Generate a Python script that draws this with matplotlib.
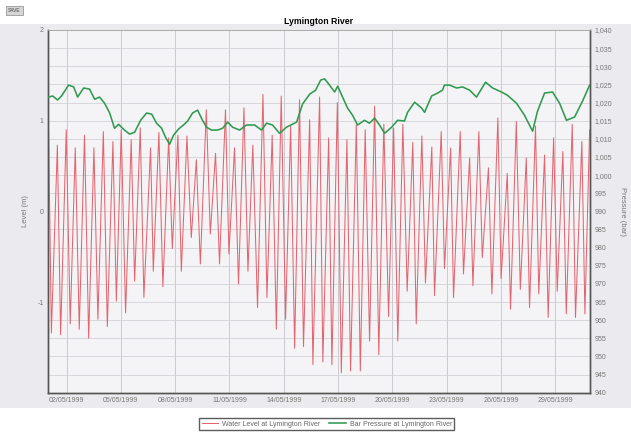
import matplotlib

matplotlib.use("Agg")

import matplotlib.dates as mdates
import matplotlib.pyplot as plt
import numpy as np
from matplotlib.patches import Rectangle
from matplotlib.ticker import FuncFormatter, MultipleLocator

plt.rcParams["font.family"] = ["Liberation Sans", "DejaVu Sans"]
plt.rcParams["axes.unicode_minus"] = False

# tide turning points (day of May 1999, level in m)
tide_day = [
    1.00, 1.16, 1.49, 1.67, 1.98, 2.20, 2.48, 2.70, 2.99, 3.22, 3.51, 3.73,
    4.03, 4.25, 4.56, 4.75, 5.02, 5.26, 5.57, 5.76, 6.07, 6.27, 6.64, 6.79,
    7.10, 7.32, 7.64, 7.84, 8.15, 8.34, 8.65, 8.89, 9.17, 9.39, 9.72, 9.94,
    10.23, 10.45, 10.78, 10.97, 11.28, 11.50, 11.80, 12.02, 12.29, 12.55,
    12.85, 13.07, 13.36, 13.59, 13.86, 14.10, 14.38, 14.60, 14.87, 15.09,
    15.43, 15.61, 15.98, 16.16, 16.48, 16.66, 16.96, 17.18, 17.49, 17.69,
    18.01, 18.23, 18.50, 18.74, 19.02, 19.25, 19.53, 19.79, 20.07, 20.30,
    20.58, 20.82, 21.13, 21.32, 21.63, 21.83, 22.18, 22.33, 22.70, 22.88,
    23.22, 23.38, 23.75, 23.93, 24.27, 24.45, 24.78, 24.97, 25.31, 25.50,
    25.83, 26.01, 26.35, 26.53, 26.85, 27.07, 27.40, 27.58, 27.91, 28.09,
    28.41, 28.61, 28.91, 29.11, 29.42, 29.61, 29.94, 30.12, 30.47, 30.64,
    30.90,
]
tide_level = [
    0.95, -1.34, 0.73, -1.36, 0.90, -1.24, 0.70, -1.30, 0.84, -1.40, 0.70, -1.19,
    0.88, -1.27, 0.77, -0.99, 0.90, -1.12, 0.79, -0.77, 0.92, -0.95, 0.70, -0.66,
    0.87, -0.83, 0.81, -0.41, 0.84, -0.66, 0.83, -0.29, 0.57, -0.58, 1.12, -0.25,
    0.64, -0.58, 1.12, -0.47, 0.70, -0.80, 1.14, -0.66, 0.73, -1.06,
    1.29, -0.95, 0.84, -1.30, 1.27, -1.19, 0.94, -1.51, 1.23, -1.49,
    1.01, -1.69, 1.26, -1.66, 0.81, -1.69, 1.20, -1.78, 0.79, -1.76,
    0.96, -1.76, 0.90, -1.43, 1.16, -1.58, 0.96, -1.16, 0.92, -1.43,
    0.96, -0.88, 0.76, -1.24, 0.83, -0.79, 0.71, -0.93, 0.88, -0.63,
    0.70, -0.95, 0.88, -0.69, 0.59, -0.82, 0.88, -0.51, 0.48, -0.91,
    1.03, -0.74, 0.42, -1.08, 0.99, -0.86, 0.59, -1.06, 0.94, -0.91,
    0.62, -1.17, 0.81, -0.88, 0.66, -1.13, 0.96, -1.17, 0.77, -1.13,
    0.90,
]

# barometric pressure (hPa)
press_day = [
    1.00, 1.23, 1.50, 1.72, 2.11, 2.39, 2.61, 2.94, 3.27, 3.55, 3.82, 4.10,
    4.38, 4.65, 4.87, 5.20, 5.48, 5.76, 6.09, 6.42, 6.70, 6.97, 7.25, 7.47,
    7.69, 7.91, 8.19, 8.46, 8.69, 8.96, 9.24, 9.51, 9.73, 10.01, 10.34, 10.62,
    10.90, 11.17, 11.56, 11.94, 12.39, 12.77, 13.05, 13.38, 13.77, 14.15,
    14.71, 15.04, 15.43, 15.76, 16.04, 16.26, 16.53, 16.81, 16.98, 17.25,
    17.52, 17.80, 18.08, 18.46, 18.74, 19.02, 19.29, 19.57, 19.96, 20.29,
    20.67, 20.84, 21.23, 21.61, 21.78, 22.17, 22.50, 22.77, 22.88, 23.16,
    23.55, 23.88, 24.27, 24.65, 25.15, 25.54, 26.03, 26.36, 26.86, 27.30,
    27.75, 28.02, 28.41, 28.85, 29.24, 29.62, 30.07, 30.51, 30.90,
]
press_hpa = [
    1021.5, 1021.8, 1020.7, 1021.8, 1024.8, 1024.3, 1021.5, 1024.0, 1023.7, 1020.9, 1021.5, 1019.8,
    1017.1, 1012.9, 1014.0, 1012.4, 1011.3, 1011.8, 1015.1, 1017.1, 1016.8, 1014.3, 1012.9, 1010.4,
    1008.5, 1011.0, 1012.7, 1013.8, 1014.9, 1017.1, 1017.9, 1015.1, 1013.2, 1012.4, 1012.4, 1012.9,
    1014.6, 1013.2, 1012.4, 1013.8, 1013.8, 1012.4, 1014.3, 1013.8, 1011.5, 1013.2,
    1014.6, 1019.6, 1022.3, 1023.4, 1026.2, 1026.5, 1024.8, 1022.9, 1024.5, 1021.5,
    1018.5, 1016.5, 1013.8, 1015.1, 1014.3, 1015.7, 1013.8, 1011.5, 1013.2, 1015.1,
    1014.9, 1017.3, 1020.1, 1018.5, 1017.3, 1021.8, 1022.6, 1023.4, 1024.8, 1024.8,
    1024.0, 1024.3, 1023.4, 1021.5, 1025.6, 1024.0, 1022.9, 1022.0, 1019.8, 1016.5,
    1012.1, 1017.6, 1022.6, 1022.9, 1019.8, 1015.1, 1016.0, 1020.4, 1024.8,
]

date_ticks = [2, 5, 8, 11, 14, 17, 20, 23, 26, 29]

start = np.datetime64("1999-05-01T00:00")


def to_dates(days):
    mins = np.round((np.asarray(days) - 1.0) * 1440).astype(int)
    return start + mins.astype("timedelta64[m]")


fig = plt.figure(figsize=(6.31, 4.34), dpi=100)
fig.patch.set_facecolor("white")
fig.patches.append(Rectangle((0.0, 0.06), 1.0, 0.885, transform=fig.transFigure,
                             facecolor="#ebebef", edgecolor="none", zorder=-10))

ax = fig.add_axes([0.076, 0.095, 0.859, 0.836])
ax.set_facecolor("#f4f4f6")
ax2 = ax.twinx()

ax.plot(to_dates(tide_day), tide_level, color="#e26670", lw=0.75,
        label="Water Level at Lymington River", zorder=3)
ax2.plot(to_dates(press_day), press_hpa, color="#2f9a50", lw=1.15,
         label="Bar Pressure at Lymington River", zorder=4)

ax.set_ylim(-2, 2)
ax2.set_ylim(940, 1040)
ax.set_xlim(to_dates([0.97])[0], to_dates([30.92])[0])

ax.set_yticks([-1, 0, 1, 2])
ax.yaxis.set_minor_locator(MultipleLocator(0.2))
ax2.yaxis.set_major_locator(MultipleLocator(5))
ax2.yaxis.set_major_formatter(FuncFormatter(lambda v, p: f"{v:,.0f}"))
ax.set_xticks(to_dates(date_ticks))
ax.xaxis.set_major_formatter(mdates.DateFormatter("%d/%m/%Y"))

ax.grid(True, which="both", axis="y", color="#d2d2d8", lw=0.6)
ax.grid(True, which="major", axis="x", color="#c4c4ca", lw=0.6)
ax.set_axisbelow(True)

for a in (ax, ax2):
    a.tick_params(labelsize=5, colors="#777777", length=0, pad=3)
    a.tick_params(which="minor", length=0)
    for side in ("left", "right", "bottom"):
        a.spines[side].set_color("#555555")
        a.spines[side].set_linewidth(1.0)
    a.spines["top"].set_color("#aaaaaa")
    a.spines["top"].set_linewidth(0.6)

ax.set_ylabel("Level (m)", fontsize=5.5, color="#777777", labelpad=6)
ax2.set_ylabel("Pressure (bar)", fontsize=5.5, color="#777777", rotation=270, labelpad=10)
ax.set_title("Lymington River", fontsize=6.3, fontweight="bold", pad=4)

fig.legend(loc="center", bbox_to_anchor=(0.518, 0.023), ncol=2, fontsize=5,
           frameon=True, fancybox=False, edgecolor="#333333", handlelength=2.4,
           borderpad=0.3, columnspacing=1.2, handletextpad=0.6, labelcolor="#666666")

fig.text(0.013, 0.975, "SAVE", fontsize=3.5, color="#444444", va="center",
         bbox={"boxstyle": "square,pad=0.4", "facecolor": "#d6d6d6", "edgecolor": "#888888", "lw": 0.5})

fig.savefig("out.png", dpi=100)
